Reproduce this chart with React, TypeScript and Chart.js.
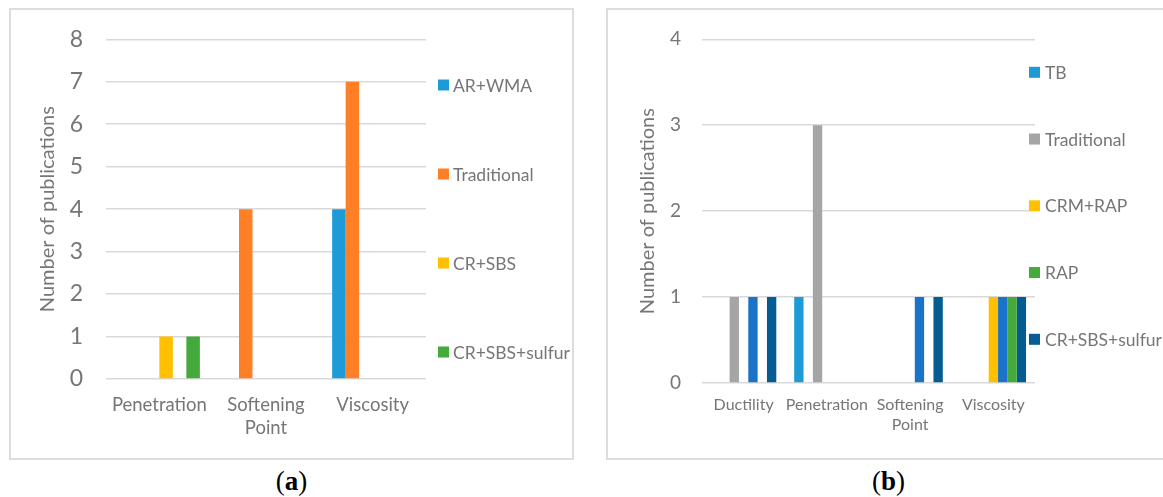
import React, { useEffect, useRef } from 'react';
import { Chart, registerables } from 'chart.js';

Chart.register(...registerables);

// ---------- Data: panel (a) ----------
const aCategories: (string | string[])[] = ['Penetration', ['Softening', 'Point'], 'Viscosity'];
const aNames = ['AR+WMA', 'Traditional', '', 'CR+SBS', '', 'CR+SBS+sulfur'];
const aArWma = [null, null, 4];
const aTraditional = [null, 4, 7];
const aEmpty1 = [null, null, null];
const aCrSbs = [1, null, null];
const aEmpty2 = [null, null, null];
const aCrSbsSulfur = [1, null, null];
const aColors = ['#1E9BD7', '#FF7F27', '#FFFFFF', '#FFC000', '#FFFFFF', '#43AA3B'];
const aYMax = 8;

// ---------- Data: panel (b) ----------
const bCategories: (string | string[])[] = ['Ductility', 'Penetration', ['Softening', 'Point'], 'Viscosity'];
const bNames = ['TB', '', 'Traditional', 'CRM+RAP', '', 'RAP', 'CR+SBS+sulfur'];
const bTb = [null, 1, null, null];
const bEmpty = [null, null, null, null];
const bTraditional = [1, 3, null, null];
const bCrmRap = [null, null, null, 1];
const bUnlabeledBlue = [1, null, 1, 1];
const bRap = [null, null, null, 1];
const bCrSbsSulfur = [1, null, 1, 1];
const bColors = ['#1E9BD7', '#FFFFFF', '#A5A5A5', '#FFC000', '#1A72C9', '#43AA3B', '#045C93'];
const bYMax = 4;

const TEXT = '#767676';
const GRID = '#D9D9D9';
const FONT = 'Lato';

const sideLegend = {
  id: 'sideLegend',
  afterDraw(chart: any, _args: any, opts: any) {
    const ctx = chart.ctx;
    const items = chart.data.datasets.filter((d: any) => d.label);
    ctx.save();
    ctx.font = `${opts.size}px ${FONT}`;
    ctx.textBaseline = 'middle';
    ctx.textAlign = 'left';
    items.forEach((ds: any, i: number) => {
      const y = chart.chartArea.top + opts.first + i * opts.spacing;
      const x = chart.chartArea.right + opts.dx;
      const tw = ctx.measureText(ds.label).width;
      ctx.fillStyle = '#FFFFFF';
      ctx.fillRect(x, y - opts.box / 2 - 1, opts.box + opts.gap + tw + 2, opts.box + 2);
      ctx.fillStyle = ds.backgroundColor;
      ctx.fillRect(x, y - opts.box / 2, opts.box, opts.box);
      ctx.fillStyle = TEXT;
      ctx.fillText(ds.label, x + opts.box + opts.gap, y + 1);
    });
    ctx.restore();
  },
};

function makeConfig(p: any) {
  return {
    type: 'bar',
    data: {
      labels: p.labels,
      datasets: p.series.map((data: any, i: number) => ({
        label: p.names[i],
        data,
        backgroundColor: p.colors[i],
        borderWidth: 0,
        categoryPercentage: p.catPct,
        barPercentage: 1,
      })),
    },
    plugins: [sideLegend],
    options: {
      animation: false,
      responsive: false,
      devicePixelRatio: 1,
      layout: { padding: { left: 0, top: p.top, right: p.right, bottom: p.bottom } },
      plugins: {
        legend: { display: false },
        tooltip: { enabled: false },
        sideLegend: p.legend,
      },
      scales: {
        x: {
          grid: { display: false, drawTicks: false },
          border: { display: false },
          ticks: {
            color: TEXT,
            font: { family: FONT, size: p.xFont, lineHeight: p.xLine },
            padding: p.xPad,
            maxRotation: 0,
            minRotation: 0,
            autoSkip: false,
          },
          afterFit: (s: any) => { s.height = p.xHeight; },
        },
        y: {
          min: 0,
          max: p.yMax,
          grid: { color: GRID, lineWidth: 1.5, drawTicks: false },
          border: { display: false },
          ticks: {
            stepSize: 1,
            color: TEXT,
            font: { family: FONT, size: p.yFont },
            padding: p.yPad,
          },
          title: {
            display: true,
            text: 'Number of publications',
            color: TEXT,
            font: { family: FONT, size: p.titleFont, lineHeight: 1.2 },
            padding: { top: p.titlePad, bottom: 0 },
          },
          afterFit: (s: any) => {
            s.width = p.yWidth;
            s.paddingTop = 0;
            s.paddingBottom = 0;
          },
        },
      },
    },
  };
}

function ChartPanel({ cfg, left }: { cfg: any; left: number }) {
  const ref = useRef<HTMLCanvasElement | null>(null);
  useEffect(() => {
    const chart = new Chart(ref.current as HTMLCanvasElement, cfg);
    return () => chart.destroy();
  }, []);
  return (
    <>
      <div
        style={{
          position: 'absolute', left: left - 2, top: 8, width: 565, height: 452,
          border: '2px solid #DDDDDD', boxSizing: 'border-box',
        }}
      />
      <canvas
        ref={ref}
        width={561}
        height={448}
        style={{ position: 'absolute', left, top: 10, width: 561, height: 448 }}
      />
    </>
  );
}

const cfgA = makeConfig({
  labels: aCategories,
  names: aNames,
  series: [aArWma, aTraditional, aEmpty1, aCrSbs, aEmpty2, aCrSbsSulfur],
  colors: aColors,
  catPct: 0.76,
  yMax: aYMax,
  top: 29.3,
  right: 561 - 415,
  bottom: 19,
  xHeight: 448 - 369 - 19,
  yWidth: 95,
  xFont: 18.5,
  xLine: 1.27,
  xPad: 14,
  yFont: 23,
  yPad: 23,
  titleFont: 20,
  titlePad: 25,
  legend: { size: 17.5, first: 45.7, spacing: 89, dx: 12, box: 11, gap: 4 },
});

const cfgB = makeConfig({
  labels: bCategories,
  names: bNames,
  series: [bTb, bEmpty, bTraditional, bCrmRap, bUnlabeledBlue, bRap, bCrSbsSulfur],
  colors: bColors,
  catPct: 0.785,
  yMax: bYMax,
  top: 29.3,
  right: 561 - 427,
  bottom: 19,
  xHeight: 448 - 373 - 19,
  yWidth: 94,
  xFont: 16,
  xLine: 1.25,
  xPad: 12,
  yFont: 19,
  yPad: 21,
  titleFont: 20,
  titlePad: 28,
  legend: { size: 17.5, first: 33, spacing: 66.75, dx: -6, box: 11, gap: 5 },
});

export default function App() {
  useEffect(() => {
    document.body.style.margin = '0';
    document.body.style.overflow = 'hidden';
  }, []);
  return (
    <div style={{ position: 'relative', width: 1163, height: 497, overflow: 'hidden', background: '#fff' }}>
      <ChartPanel cfg={cfgA} left={11} />
      <ChartPanel cfg={cfgB} left={608} />
      <div style={{ position: 'absolute', left: 9, width: 565, top: 466, textAlign: 'center', fontFamily: '"Liberation Serif", serif', fontSize: 27, color: '#000' }}>
        (<b>a</b>)
      </div>
      <div style={{ position: 'absolute', left: 606, width: 565, top: 466, textAlign: 'center', fontFamily: '"Liberation Serif", serif', fontSize: 27, color: '#000' }}>
        (<b>b</b>)
      </div>
    </div>
  );
}
